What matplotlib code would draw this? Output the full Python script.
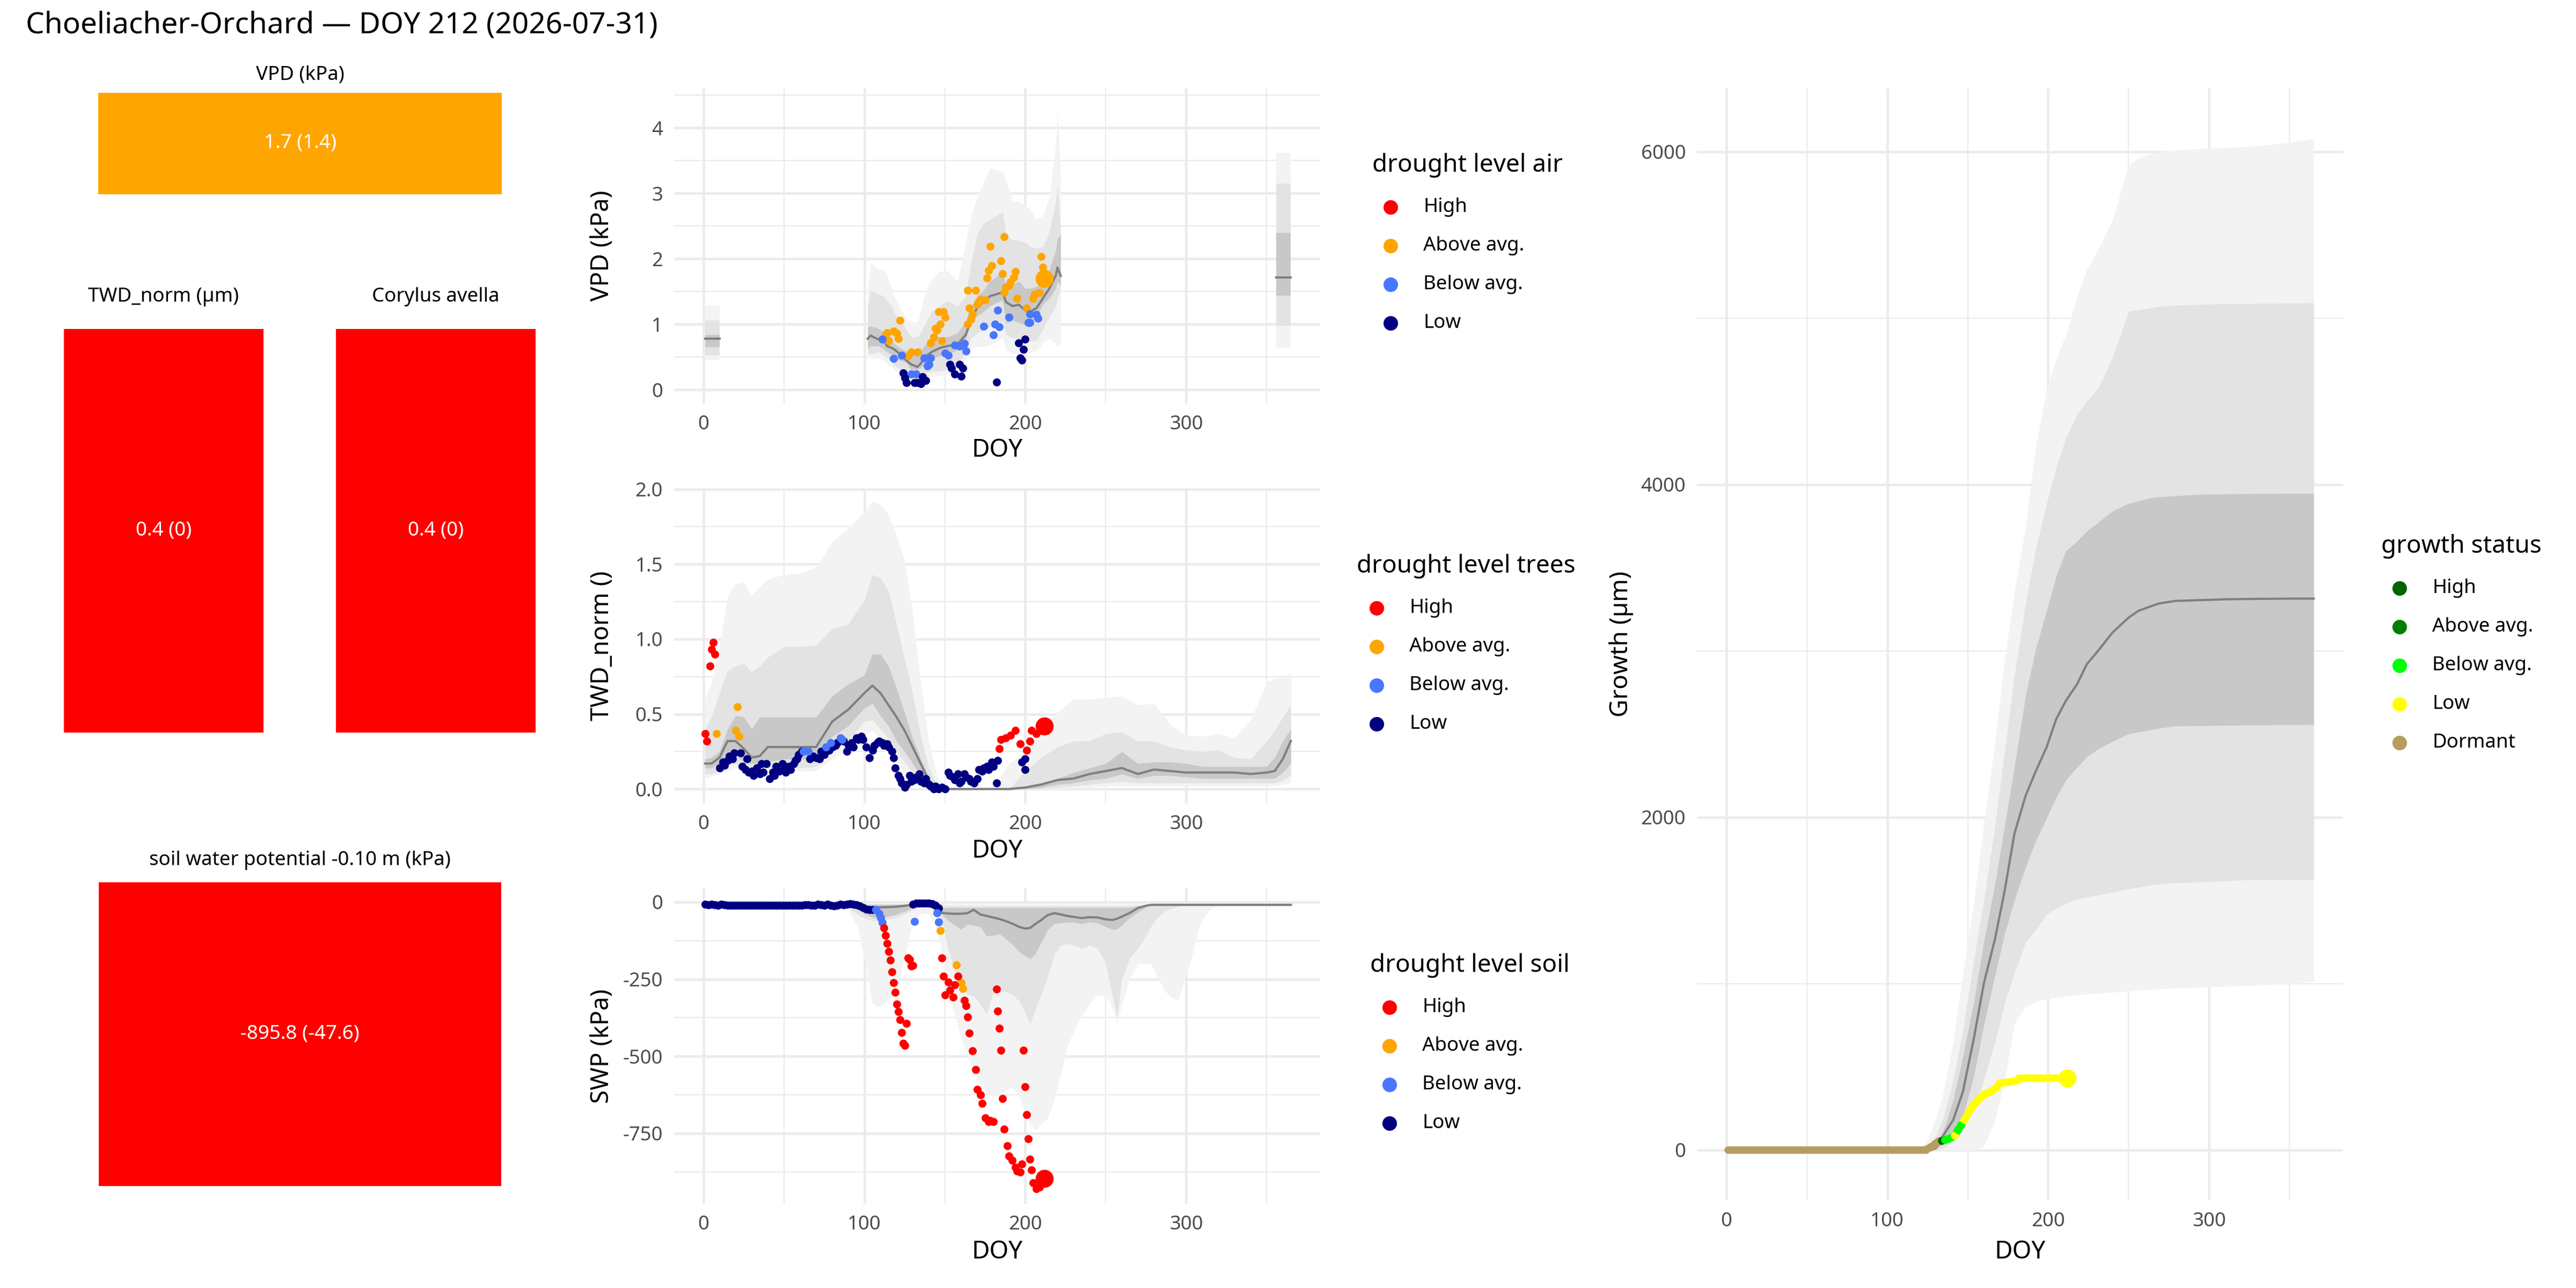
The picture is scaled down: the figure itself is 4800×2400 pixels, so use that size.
import matplotlib
matplotlib.use('Agg')
import matplotlib.pyplot as plt
from matplotlib.lines import Line2D
from matplotlib.patches import Rectangle

plt.rcParams['font.family'] = ['Noto Sans', 'DejaVu Sans']
plt.rcParams['axes.unicode_minus'] = False

title = 'Choeliacher-Orchard \u2014 DOY 212 (2026-07-31)'

# ---- tiles (current value and mean) ----
tile_titles = ['VPD (kPa)', 'TWD_norm (\u00b5m)', 'Corylus avella', 'soil water potential -0.10 m (kPa)']
tile_values = ['1.7 (1.4)', '0.4 (0)', '0.4 (0)', '-895.8 (-47.6)']
tile_colors = ['#FFA500', '#FF0000', '#FF0000', '#FF0000']

levels = ['High', 'Above avg.', 'Below avg.', 'Low']
level_colors = ['#FF0000', '#FFA500', '#4876FF', '#000080']
growth_levels = ['High', 'Above avg.', 'Below avg.', 'Low', 'Dormant']
growth_colors = ['#006400', '#008000', '#00FF00', '#FFFF00', '#B89B5E']

# ---- VPD ribbons (lo1/hi1 outer, lo2/hi2 middle, lo3/hi3 inner) ----
vpd_doy = [102, 104, 106, 109, 112, 114, 117, 119, 122, 126, 129, 133, 135, 138, 142, 147, 152, 158,
           163, 166, 170, 174, 178, 182, 186, 188, 192, 196, 200, 203, 207, 211, 215, 219, 220, 222]
vpd_med = [0.78, 0.83, 0.80, 0.77, 0.78, 0.67, 0.64, 0.61, 0.55, 0.45, 0.39, 0.35, 0.40, 0.51, 0.58, 0.64, 0.67, 0.70,
           0.84, 1.05, 1.25, 1.34, 1.43, 1.46, 1.49, 1.34, 1.28, 1.30, 1.21, 1.19, 1.25, 1.40, 1.55, 1.75, 1.87, 1.74]
vpd_hi3 = [0.96, 0.97, 0.96, 0.93, 0.89, 0.79, 0.74, 0.70, 0.64, 0.59, 0.55, 0.56, 0.60, 0.69, 0.77, 0.81, 0.81, 0.87,
           1.05, 1.25, 1.43, 1.52, 1.66, 1.72, 1.84, 1.55, 1.61, 1.66, 1.55, 1.55, 1.58, 1.66, 1.84, 2.13, 2.31, 2.37]
vpd_lo3 = [0.64, 0.67, 0.67, 0.67, 0.62, 0.58, 0.54, 0.49, 0.45, 0.42, 0.31, 0.31, 0.34, 0.40, 0.48, 0.52, 0.54, 0.61,
           0.78, 0.99, 1.13, 1.19, 1.28, 1.33, 1.37, 1.02, 1.06, 1.03, 0.99, 1.02, 1.11, 1.31, 1.40, 1.55, 1.65, 1.60]
vpd_hi2 = [1.25, 1.52, 1.49, 1.46, 1.43, 1.37, 1.28, 1.16, 1.08, 0.93, 0.81, 0.81, 0.87, 1.02, 1.20, 1.28, 1.36, 1.28,
           1.43, 1.90, 2.37, 2.54, 2.60, 2.66, 2.72, 2.37, 2.29, 2.28, 2.25, 2.19, 2.16, 2.19, 2.42, 2.87, 3.16, 2.42]
vpd_lo2 = [0.55, 0.55, 0.56, 0.58, 0.53, 0.49, 0.43, 0.37, 0.31, 0.24, 0.20, 0.17, 0.20, 0.26, 0.28, 0.29, 0.31, 0.39,
           0.58, 0.78, 0.87, 0.90, 0.96, 1.00, 1.05, 0.84, 0.80, 0.78, 0.77, 0.74, 0.75, 0.93, 1.11, 1.28, 1.40, 1.55]
vpd_hi1 = [1.55, 1.93, 1.90, 1.84, 1.83, 1.75, 1.57, 1.40, 1.25, 1.08, 1.05, 1.03, 1.19, 1.52, 1.69, 1.81, 1.82, 1.66,
           2.25, 2.60, 2.95, 3.16, 3.38, 3.36, 3.33, 3.19, 2.87, 2.88, 2.81, 2.75, 2.60, 2.66, 2.95, 3.74, 4.30, 3.25]
vpd_lo1 = [0.50, 0.48, 0.48, 0.48, 0.45, 0.40, 0.35, 0.30, 0.25, 0.18, 0.14, 0.12, 0.14, 0.19, 0.20, 0.21, 0.24, 0.30,
           0.45, 0.62, 0.66, 0.66, 0.68, 0.74, 0.80, 0.60, 0.55, 0.55, 0.56, 0.56, 0.60, 0.72, 0.78, 0.70, 0.66, 0.70]
# short ribbon pieces at the start and end of the year: lo1, hi1, lo2, hi2, lo3, hi3, med
vpd_start_doy = [1, 10]
vpd_start = [0.45, 1.29, 0.53, 1.06, 0.65, 0.84, 0.78]
vpd_end_doy = [356, 365]
vpd_end = [0.64, 3.62, 0.98, 3.15, 1.44, 2.40, 1.72]

# ---- VPD observations ----
vpd_above_doy = [113, 114, 115, 118, 120, 121, 122, 127, 129, 133, 141, 143, 144, 145, 147, 148, 146, 149, 150,
                 164, 166, 167, 165, 170, 171, 172, 175, 164, 169, 176, 177, 179, 178, 185, 186, 187, 187, 188,
                 190, 191, 193, 194, 195, 201, 205, 206, 209, 210, 211]
vpd_above_val = [0.83, 0.87, 0.75, 0.90, 0.86, 0.78, 1.06, 0.52, 0.58, 0.58, 0.72, 0.81, 0.94, 0.91, 1.00, 0.75, 1.19, 1.19, 1.11,
                 1.00, 1.08, 1.16, 1.25, 1.31, 1.35, 1.38, 1.37, 1.52, 1.52, 1.71, 1.82, 1.90, 2.19, 1.97, 1.77, 2.34, 1.49, 1.57,
                 1.59, 1.65, 1.72, 1.81, 1.40, 1.25, 1.40, 1.46, 1.49, 2.04, 1.87]
vpd_below_doy = [111, 118, 123, 129, 132, 137, 141, 140, 139, 150, 152, 156, 159, 162, 163, 174, 180, 181, 184,
                 183, 190, 202, 203, 203, 207, 208]
vpd_below_val = [0.77, 0.48, 0.53, 0.24, 0.24, 0.49, 0.49, 0.39, 0.36, 0.56, 0.53, 0.68, 0.67, 0.71, 0.59, 0.97, 0.84, 1.00, 0.96,
                 1.22, 1.11, 1.03, 1.03, 1.16, 1.15, 1.09]
vpd_low_doy = [124, 125, 126, 131, 133, 136, 138, 135, 153, 154, 156, 159, 161, 160, 182, 196, 200, 199, 197, 198]
vpd_low_val = [0.26, 0.18, 0.11, 0.11, 0.11, 0.20, 0.14, 0.09, 0.39, 0.33, 0.24, 0.39, 0.33, 0.21, 0.12, 0.72, 0.77, 0.62, 0.49, 0.45]
vpd_today = (212, 1.7)

# ---- TWD ribbons ----
twd_doy = [1, 5, 10, 15, 20, 25, 30, 35, 40, 50, 60, 70, 80, 90, 100, 105, 110, 115, 120, 125, 130, 135, 140, 145,
           150, 155, 160, 170, 180, 190, 200, 210, 220, 230, 240, 250, 260, 270, 280, 290, 300, 310, 320, 330,
           340, 350, 355, 360, 365]
twd_hi1 = [0.60, 0.71, 0.95, 1.29, 1.37, 1.38, 1.29, 1.35, 1.40, 1.43, 1.44, 1.48, 1.65, 1.74, 1.85, 1.92, 1.90, 1.83,
           1.69, 1.52, 1.18, 0.71, 0.32, 0.09, 0.02, 0.0, 0.0, 0.0, 0.01, 0.17, 0.25, 0.40, 0.51, 0.60, 0.60, 0.61,
           0.62, 0.56, 0.57, 0.43, 0.36, 0.35, 0.37, 0.34, 0.46, 0.71, 0.74, 0.74, 0.77]
twd_hi2 = [0.40, 0.48, 0.64, 0.79, 0.82, 0.84, 0.78, 0.82, 0.88, 0.95, 0.95, 0.96, 1.07, 1.10, 1.26, 1.43, 1.41, 1.32,
           1.10, 0.87, 0.64, 0.35, 0.14, 0.03, 0.0, 0.0, 0.0, 0.0, 0.0, 0.0, 0.12, 0.21, 0.28, 0.32, 0.32, 0.37,
           0.38, 0.32, 0.32, 0.28, 0.26, 0.25, 0.26, 0.21, 0.20, 0.32, 0.39, 0.48, 0.56]
twd_hi3 = [0.20, 0.21, 0.25, 0.40, 0.49, 0.48, 0.40, 0.48, 0.48, 0.48, 0.48, 0.48, 0.62, 0.70, 0.76, 0.90, 0.90, 0.82,
           0.67, 0.51, 0.34, 0.20, 0.07, 0.01, 0.0, 0.0, 0.0, 0.0, 0.0, 0.0, 0.02, 0.04, 0.07, 0.11, 0.14, 0.17,
           0.25, 0.17, 0.18, 0.18, 0.17, 0.15, 0.15, 0.15, 0.15, 0.15, 0.21, 0.32, 0.40]
twd_med = [0.17, 0.17, 0.21, 0.32, 0.32, 0.27, 0.21, 0.22, 0.28, 0.28, 0.28, 0.28, 0.45, 0.53, 0.64, 0.69, 0.64, 0.56,
           0.48, 0.39, 0.28, 0.17, 0.06, 0.01, 0.0, 0.0, 0.0, 0.0, 0.0, 0.0, 0.01, 0.03, 0.06, 0.07, 0.10, 0.12,
           0.14, 0.10, 0.13, 0.12, 0.11, 0.11, 0.11, 0.11, 0.10, 0.11, 0.12, 0.20, 0.32]
twd_lo3 = [0.14, 0.14, 0.17, 0.23, 0.23, 0.18, 0.17, 0.17, 0.18, 0.20, 0.20, 0.20, 0.35, 0.42, 0.54, 0.57, 0.49, 0.42,
           0.32, 0.25, 0.17, 0.09, 0.03, 0.0, 0.0, 0.0, 0.0, 0.0, 0.0, 0.0, 0.0, 0.01, 0.03, 0.04, 0.06, 0.07,
           0.10, 0.07, 0.09, 0.09, 0.08, 0.07, 0.07, 0.07, 0.07, 0.07, 0.07, 0.11, 0.17]
twd_lo2 = [0.10, 0.10, 0.12, 0.17, 0.17, 0.14, 0.12, 0.12, 0.14, 0.15, 0.14, 0.15, 0.25, 0.32, 0.45, 0.46, 0.40, 0.34,
           0.25, 0.18, 0.11, 0.04, 0.01, 0.0, 0.0, 0.0, 0.0, 0.0, 0.0, 0.0, 0.0, 0.0, 0.01, 0.02, 0.03, 0.04,
           0.05, 0.04, 0.04, 0.04, 0.04, 0.04, 0.04, 0.04, 0.04, 0.04, 0.04, 0.06, 0.09]
twd_lo1 = [0.07, 0.08, 0.10, 0.12, 0.14, 0.12, 0.11, 0.11, 0.11, 0.12, 0.12, 0.12, 0.20, 0.26, 0.36, 0.39, 0.33, 0.26,
           0.18, 0.10, 0.05, 0.02, 0.0, 0.0, 0.0, 0.0, 0.0, 0.0, 0.0, 0.0, 0.0, 0.0, 0.0, 0.01, 0.01, 0.02,
           0.02, 0.02, 0.02, 0.02, 0.02, 0.02, 0.02, 0.02, 0.02, 0.02, 0.02, 0.03, 0.04]

# ---- TWD observations ----
twd_high_doy = [1, 2, 4, 5, 6, 7, 184, 185, 188, 191, 194, 197, 201, 203, 204, 207, 210]
twd_high_val = [0.37, 0.32, 0.82, 0.93, 0.98, 0.90, 0.27, 0.33, 0.34, 0.36, 0.39, 0.30, 0.26, 0.32, 0.39, 0.37, 0.43]
twd_above_doy = [8, 20, 21, 22]
twd_above_val = [0.37, 0.39, 0.55, 0.35]
twd_below_doy = [62, 65, 76, 79, 85, 86]
twd_below_val = [0.25, 0.25, 0.28, 0.31, 0.34, 0.33]
twd_low_doy = [10, 12, 13, 15, 16, 18, 19, 23, 24, 26, 27, 28, 30, 31, 33, 35, 36, 37, 39, 41, 43, 44, 45, 47, 49,
               50, 51, 53, 54, 56, 57, 58, 59, 61, 66, 68, 70, 72, 73, 75, 78, 80, 82, 83, 87, 89, 90, 92, 93, 95,
               96, 98, 99, 101, 103, 105, 106, 108, 109, 111, 112, 114, 115, 117, 118, 119, 121, 122, 123, 125, 126,
               128, 129, 131, 132, 134, 135, 137, 138, 140, 141, 143, 144, 146, 148, 150, 152, 153, 155, 156, 158,
               159, 160, 162, 163, 165, 166, 168, 170, 171, 173, 174, 176, 177, 179, 180, 182, 183, 198, 200, 200]
twd_low_val = [0.14, 0.18, 0.16, 0.19, 0.22, 0.20, 0.24, 0.24, 0.15, 0.13, 0.20, 0.11, 0.12, 0.09, 0.14, 0.10, 0.17,
               0.11, 0.17, 0.07, 0.11, 0.09, 0.15, 0.12, 0.17, 0.13, 0.11, 0.15, 0.13, 0.17, 0.19, 0.20, 0.23, 0.25,
               0.20, 0.22, 0.21, 0.20, 0.25, 0.23, 0.26, 0.28, 0.29, 0.31, 0.32, 0.25, 0.29, 0.31, 0.28, 0.34, 0.33,
               0.35, 0.33, 0.28, 0.21, 0.26, 0.29, 0.31, 0.32, 0.31, 0.29, 0.30, 0.28, 0.25, 0.21, 0.14, 0.09, 0.07,
               0.04, 0.01, 0.03, 0.09, 0.05, 0.06, 0.08, 0.10, 0.05, 0.04, 0.07, 0.03, 0.02, 0.0, 0.02, 0.0, 0.01,
               0.0, 0.11, 0.09, 0.08, 0.06, 0.10, 0.04, 0.05, 0.10, 0.08, 0.07, 0.05, 0.04, 0.07, 0.13, 0.12, 0.14,
               0.15, 0.13, 0.18, 0.15, 0.04, 0.19, 0.18, 0.13, 0.20]
twd_today = (212, 0.42)

# ---- soil water potential ribbons ----
swp_doy = [1, 90, 96, 101, 105, 108, 111, 116, 120, 125, 130, 135, 140, 145, 148, 152, 156, 160, 164, 168,
           172, 176, 180, 184, 188, 192, 196, 200, 203, 206, 210, 214, 218, 222, 226, 230, 235, 240, 245, 250,
           254, 257, 260, 265, 270, 275, 278, 282, 287, 291, 295, 299, 303, 308, 312, 316, 320, 330, 345, 365]
swp_med = [-8, -10, -14, -17, -17, -17, -17, -16, -15, -12, -9, -9, -9, -20, -35, -37, -38, -38, -36, -25,
           -40, -45, -50, -55, -62, -70, -80, -86, -84, -72, -58, -42, -36, -40, -45, -48, -52, -49, -50, -56,
           -58, -54, -47, -35, -19, -12, -9, -9, -9, -9, -9, -9, -9, -9, -9, -9, -9, -9, -9, -9]
swp_hi3 = [-5, -6, -8, -10, -8, -8, -8, -8, -8, -8, -8, -8, -8, -12, -19, -18, -18, -18, -18, -18,
           -18, -18, -18, -18, -18, -18, -18, -18, -18, -18, -18, -18, -18, -18, -18, -18, -18, -18, -18, -18,
           -18, -18, -18, -18, -14, -10, -9, -9, -9, -9, -9, -9, -9, -9, -9, -9, -9, -9, -9, -9]
swp_lo3 = [-10, -15, -25, -40, -50, -52, -50, -45, -40, -30, -18, -12, -12, -30, -40, -60, -74, -89, -72, -75,
           -80, -110, -108, -103, -120, -138, -160, -175, -184, -170, -130, -90, -70, -68, -66, -65, -71, -64, -68, -80,
           -89, -87, -75, -50, -33, -16, -11, -9, -9, -9, -9, -9, -9, -9, -9, -9, -9, -9, -9, -9]
swp_hi2 = [-4, -5, -6, -7, -6, -6, -6, -6, -6, -6, -6, -6, -6, -9, -12, -12, -12, -12, -12, -12,
           -12, -12, -12, -12, -12, -12, -12, -12, -12, -12, -12, -12, -12, -12, -12, -12, -12, -12, -12, -12,
           -12, -12, -12, -12, -10, -8, -7, -7, -7, -7, -7, -7, -7, -7, -7, -7, -7, -7, -7, -7]
swp_lo2 = [-12, -20, -40, -55, -60, -62, -58, -55, -50, -40, -25, -15, -15, -40, -60, -150, -220, -270, -300, -305,
           -330, -365, -295, -290, -290, -300, -320, -360, -395, -350, -300, -240, -170, -140, -135, -140, -150, -140, -150, -200,
           -300, -375, -250, -180, -150, -110, -80, -50, -30, -20, -14, -10, -9, -9, -9, -9, -9, -9, -9, -9]
swp_hi1 = [-3, -3, -3, -4, -3, -3, -3, -3, -3, -3, -3, -3, -3, -4, -4, -4, -4, -4, -4, -4,
           -4, -4, -4, -4, -4, -4, -4, -4, -4, -4, -4, -4, -4, -4, -4, -4, -4, -4, -4, -4,
           -4, -4, -4, -4, -4, -4, -4, -4, -4, -4, -4, -4, -4, -4, -4, -4, -4, -4, -4, -4]
swp_lo1 = [-15, -25, -85, -206, -327, -340, -336, -310, -293, -180, -70, -35, -40, -85, -160, -280, -362, -440, -500, -543,
           -590, -620, -630, -625, -610, -600, -630, -680, -720, -740, -720, -700, -640, -560, -470, -420, -370, -330, -300, -305,
           -340, -390, -330, -250, -200, -200, -200, -240, -290, -310, -320, -250, -190, -80, -40, -20, -12, -10, -9, -9]

# ---- soil water potential observations ----
swp_low_doy = [1, 3, 5, 7, 9, 11, 13, 15, 17, 19, 21, 23, 25, 27, 29, 31, 33, 35, 37, 39, 41, 43, 45, 47, 49, 51,
               53, 55, 57, 59, 61, 63, 65, 67, 69, 71, 73, 75, 77, 79, 81, 83, 85, 87, 89, 91, 93, 95, 97, 99, 101,
               103, 105, 130, 132, 134, 136, 138, 140, 142, 144, 146]
swp_low_val = [-8, -9, -8, -9, -10, -8, -9, -10, -10, -11, -11, -10, -10, -11, -11, -10, -10, -10, -11, -11, -11, -10,
               -10, -10, -11, -11, -11, -10, -10, -10, -11, -9, -9, -11, -10, -8, -9, -10, -7, -10, -12, -11, -8, -9,
               -7, -5, -7, -9, -13, -18, -22, -24, -25, -8, -4, -3, -3, -3, -4, -5, -10, -20]
swp_below_doy = [107, 109, 110, 111, 131, 145, 146]
swp_below_val = [-24, -37, -50, -67, -63, -35, -64]
swp_above_doy = [147, 157, 160, 161]
swp_above_val = [-92, -203, -262, -281]
swp_high_doy = [112, 113, 114, 115, 116, 117, 118, 119, 120, 121, 122, 123, 124, 125, 126, 127, 128, 129, 130,
                148, 149, 150, 152, 153, 155, 156, 158, 162, 163, 164, 165, 167, 169, 170, 172, 173, 175, 177, 178,
                180, 182, 183, 184, 185, 186, 187, 189, 190, 192, 194, 195, 197, 198, 199, 200, 201, 202, 203, 204,
                205, 207, 209]
swp_high_val = [-83, -108, -135, -161, -189, -226, -262, -292, -331, -355, -382, -423, -457, -465, -394, -182, -187,
                -208, -206, -182, -240, -301, -260, -285, -308, -269, -240, -318, -336, -373, -424, -483, -543, -608,
                -625, -652, -699, -712, -708, -712, -282, -353, -409, -480, -637, -736, -790, -824, -837, -859, -872,
                -876, -850, -480, -599, -690, -768, -833, -868, -911, -930, -924]
swp_today = (212, -895.8)

# ---- growth ribbons ----
grow_doy = [120, 125, 130, 135, 141, 147, 154, 160, 167, 173, 179, 186, 192, 199, 205, 211, 218, 224, 231, 240,
            250, 256, 263, 269, 279, 295, 311, 327, 350, 365]
grow_hi1 = [0, 60, 180, 350, 650, 1050, 1500, 1950, 2450, 2950, 3350, 3750, 4209, 4570, 4750, 4900, 5130, 5290, 5410,
            5590, 5920, 5963, 5985, 6000, 6010, 6018, 6025, 6032, 6055, 6080]
grow_hi2 = [0, 20, 80, 200, 420, 720, 1150, 1500, 1950, 2400, 2850, 3286, 3600, 3886, 4100, 4280, 4420, 4500, 4578,
            4763, 5040, 5050, 5060, 5070, 5077, 5082, 5086, 5088, 5090, 5092]
grow_hi3 = [0, 5, 30, 120, 300, 560, 900, 1250, 1600, 1950, 2300, 2732, 3000, 3240, 3450, 3600, 3660, 3720, 3771,
            3840, 3886, 3900, 3918, 3925, 3932, 3941, 3943, 3945, 3946, 3946]
grow_med = [0, 0, 10, 90, 180, 350, 680, 1000, 1270, 1560, 1900, 2130, 2270, 2420, 2590, 2700, 2800, 2920, 3000,
            3110, 3200, 3240, 3265, 3285, 3300, 3305, 3310, 3312, 3314, 3314]
grow_lo3 = [0, 0, 0, 40, 110, 200, 450, 750, 1050, 1300, 1500, 1700, 1850, 1994, 2120, 2224, 2300, 2363, 2410,
            2455, 2501, 2512, 2524, 2535, 2548, 2550, 2552, 2554, 2556, 2557]
grow_lo2 = [0, 0, 0, 10, 60, 130, 250, 420, 650, 886, 1060, 1250, 1320, 1417, 1450, 1480, 1510, 1520, 1532,
            1550, 1570, 1578, 1592, 1598, 1605, 1611, 1618, 1625, 1625, 1625]
grow_lo1 = [0, 0, 0, 0, 0, 0, 0, 20, 180, 420, 760, 860, 890, 909, 915, 925, 932, 936, 941,
            948, 955, 960, 965, 968, 972, 978, 983, 988, 1000, 1015]

# ---- observed growth ----
obs_doy = [1, 20, 40, 60, 80, 100, 124, 127, 130, 132, 134, 136, 138, 140, 142, 144, 146, 148, 150, 152, 154,
           157, 160, 164, 168, 170, 175, 181, 182, 190, 200, 212]
obs_val = [0, 0, 0, 0, 0, 0, 0, 16, 37, 50, 55, 60, 66, 75, 86, 120, 150, 180, 215, 247, 273,
           306, 332, 348, 375, 402, 407, 418, 430, 430, 430, 430]
obs_status = ['Dormant', 'Dormant', 'Dormant', 'Dormant', 'Dormant', 'Dormant', 'Dormant', 'Dormant', 'Dormant',
              'Dormant', 'High', 'Below avg.', 'Below avg.', 'Below avg.', 'Low', 'Below avg.', 'Below avg.', 'Low',
              'Low', 'Low', 'Low', 'Low', 'Low', 'Low', 'Low', 'Low', 'Low', 'Low', 'Low', 'Low', 'Low', 'Low']

LIGHT, MID, DARK, MEDCOL = '#F3F3F3', '#E3E3E3', '#C8C8C8', '#808080'
W, H = 4800, 2400


def fx(px):
    return px / W


def fy(py):
    return 1 - py / H


def rect(l, t, r, b):
    return [fx(l), fy(b), (r - l) / W, (b - t) / H]


def ribbons(ax, x, lo1, hi1, lo2, hi2, lo3, hi3, med):
    ax.fill_between(x, lo1, hi1, color=LIGHT, lw=0, zorder=1)
    ax.fill_between(x, lo2, hi2, color=MID, lw=0, zorder=1.1)
    ax.fill_between(x, lo3, hi3, color=DARK, lw=0, zorder=1.2)
    ax.plot(x, med, color=MEDCOL, lw=1.0, zorder=1.3)


def style(ax, ylim, yticks, yminor, ylabel, ylab_x, xlab_y):
    ax.set_xlim(-18.25, 383.25)
    ax.set_ylim(*ylim)
    ax.set_xticks([0, 100, 200, 300])
    ax.set_xticks([50, 150, 250, 350], minor=True)
    ax.set_yticks(yticks)
    ax.set_yticks(yminor, minor=True)
    ax.grid(which='major', color='#EBEBEB', lw=1.1)
    ax.grid(which='minor', color='#EBEBEB', lw=0.55)
    ax.set_axisbelow(True)
    for s in ax.spines.values():
        s.set_visible(False)
    ax.tick_params(which='both', length=0, pad=5, labelsize=8.8, labelcolor='#4D4D4D')
    ax.set_xlabel('DOY', fontsize=11)
    ax.set_ylabel(ylabel, fontsize=11)
    ax.yaxis.set_label_coords(ylab_x, 0.5)
    ax.xaxis.set_label_coords(0.5, xlab_y)


def legend(title_xy, dot_x, text_x, title_txt, labels, colors):
    tx, ty = title_xy
    fig.text(fx(tx), fy(ty), title_txt, fontsize=11, va='center', ha='left')
    for i, (lab, col) in enumerate(zip(labels, colors)):
        yy = ty + 78 + 72 * i
        fig.add_artist(Line2D([fx(dot_x)], [fy(yy)], marker='o', markersize=5.5, color=col,
                              linestyle='none', transform=fig.transFigure))
        fig.text(fx(text_x), fy(yy), lab, fontsize=8.8, va='center', ha='left')


fig = plt.figure(figsize=(16, 8), dpi=300)
fig.text(fx(48), fy(62), title, fontsize=13.2, va='baseline', ha='left')

# tiles
tile_rects = [rect(183, 173, 935, 362), rect(119, 613, 491, 1365), rect(626, 613, 998, 1365), rect(184, 1644, 934, 2210)]
tile_title_pos = [(559, 140), (305, 553), (812, 553), (559, 1603)]
for r, c, v, t, tp in zip(tile_rects, tile_colors, tile_values, tile_titles, tile_title_pos):
    tax = fig.add_axes(r)
    tax.set_xlim(0, 1)
    tax.set_ylim(0, 1)
    tax.axis('off')
    tax.add_patch(Rectangle((0, 0), 1, 1, color=c))
    tax.text(0.5, 0.5, v, color='white', ha='center', va='center', fontsize=8.8)
    fig.text(fx(tp[0]), fy(tp[1]), t, ha='center', va='center', fontsize=8.8)

PT = 13
BIG = 65

# VPD panel
ax1 = fig.add_axes(rect(1256, 164, 2460, 752))
ribbons(ax1, vpd_doy, vpd_lo1, vpd_hi1, vpd_lo2, vpd_hi2, vpd_lo3, vpd_hi3, vpd_med)
for d, v in [(vpd_start_doy, vpd_start), (vpd_end_doy, vpd_end)]:
    ribbons(ax1, d, [v[0]] * 2, [v[1]] * 2, [v[2]] * 2, [v[3]] * 2, [v[4]] * 2, [v[5]] * 2, [v[6]] * 2)
ax1.scatter(vpd_above_doy, vpd_above_val, s=PT, color=level_colors[1], lw=0, zorder=3)
ax1.scatter(vpd_below_doy, vpd_below_val, s=PT, color=level_colors[2], lw=0, zorder=3)
ax1.scatter(vpd_low_doy, vpd_low_val, s=PT, color=level_colors[3], lw=0, zorder=3)
ax1.scatter([vpd_today[0]], [vpd_today[1]], s=BIG, color=level_colors[1], lw=0, zorder=3)
style(ax1, (-0.21, 4.61), [0, 1, 2, 3, 4], [0.5, 1.5, 2.5, 3.5, 4.5], 'VPD (kPa)', -0.092, -0.109)

# TWD panel
ax2 = fig.add_axes(rect(1256, 910, 2460, 1497))
ribbons(ax2, twd_doy, twd_lo1, twd_hi1, twd_lo2, twd_hi2, twd_lo3, twd_hi3, twd_med)
ax2.scatter(twd_low_doy, twd_low_val, s=PT, color=level_colors[3], lw=0, zorder=3)
ax2.scatter(twd_below_doy, twd_below_val, s=PT, color=level_colors[2], lw=0, zorder=3)
ax2.scatter(twd_above_doy, twd_above_val, s=PT, color=level_colors[1], lw=0, zorder=3)
ax2.scatter(twd_high_doy, twd_high_val, s=PT, color=level_colors[0], lw=0, zorder=3)
ax2.scatter([twd_today[0]], [twd_today[1]], s=BIG, color=level_colors[0], lw=0, zorder=3)
style(ax2, (-0.096, 2.006), [0, 0.5, 1.0, 1.5, 2.0], [0.25, 0.75, 1.25, 1.75], 'TWD_norm ()', -0.092, -0.112)
ax2.set_yticklabels(['0.0', '0.5', '1.0', '1.5', '2.0'])

# SWP panel
ax3 = fig.add_axes(rect(1256, 1655, 2460, 2243))
ribbons(ax3, swp_doy, swp_lo1, swp_hi1, swp_lo2, swp_hi2, swp_lo3, swp_hi3, swp_med)
ax3.scatter(swp_low_doy, swp_low_val, s=PT, color=level_colors[3], lw=0, zorder=3)
ax3.scatter(swp_below_doy, swp_below_val, s=PT, color=level_colors[2], lw=0, zorder=3)
ax3.scatter(swp_above_doy, swp_above_val, s=PT, color=level_colors[1], lw=0, zorder=3)
ax3.scatter(swp_high_doy, swp_high_val, s=PT, color=level_colors[0], lw=0, zorder=3)
ax3.scatter([swp_today[0]], [swp_today[1]], s=BIG, color=level_colors[0], lw=0, zorder=3)
style(ax3, (-978, 45), [-750, -500, -250, 0], [-875, -625, -375, -125], 'SWP (kPa)', -0.092, -0.114)

# growth panel
ax4 = fig.add_axes(rect(3162, 164, 4366, 2237))
ribbons(ax4, grow_doy, grow_lo1, grow_hi1, grow_lo2, grow_hi2, grow_lo3, grow_hi3, grow_med)
gcol = dict(zip(growth_levels, growth_colors))
for i in range(1, len(obs_doy)):
    ax4.plot(obs_doy[i - 1:i + 1], obs_val[i - 1:i + 1], color=gcol[obs_status[i]], lw=3.3,
             solid_capstyle='round', zorder=3)
ax4.scatter(obs_doy[6:], obs_val[6:], s=PT, color=[gcol[s] for s in obs_status[6:]], lw=0, zorder=3.1)
ax4.scatter([obs_doy[-1]], [obs_val[-1]], s=BIG, color=gcol['Low'], lw=0, zorder=3.2)
style(ax4, (-304, 6383), [0, 2000, 4000, 6000], [1000, 3000, 5000], 'Growth (\u00b5m)', -0.098, -0.035)

# legends
legend((2557, 308), 2591, 2652, 'drought level air', levels, level_colors)
legend((2528, 1055), 2565, 2626, 'drought level trees', levels, level_colors)
legend((2553, 1799), 2589, 2650, 'drought level soil', levels, level_colors)
legend((4437, 1018), 4471, 4532, 'growth status', growth_levels, growth_colors)

fig.savefig('out.png', dpi=300)
